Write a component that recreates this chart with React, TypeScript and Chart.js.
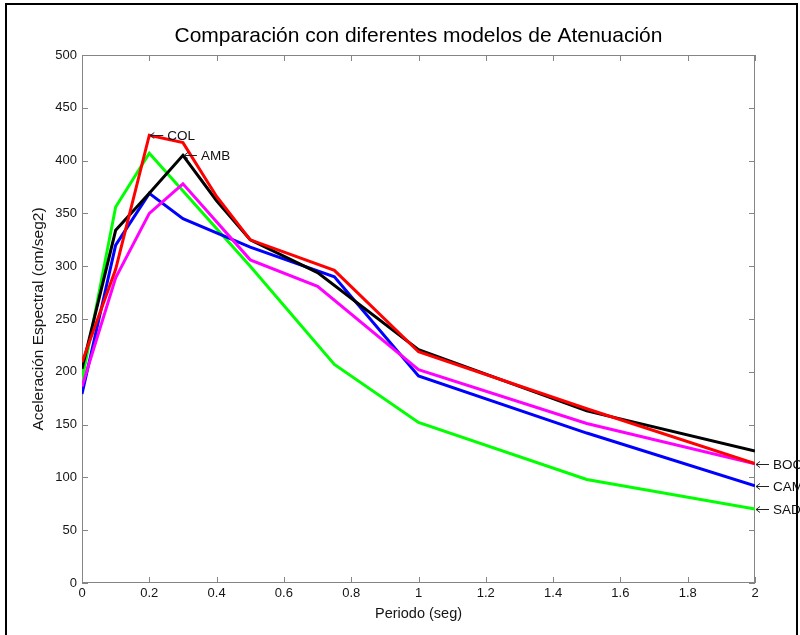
import { useEffect, useRef } from "react";
import { Chart, registerables } from "chart.js";

Chart.register(...registerables);

const titleText = "Comparación con diferentes modelos de Atenuación";
const xTitle = "Periodo (seg)";
const yTitle = "Aceleración Espectral (cm/seg2)";

// Series (periodo, aceleración)
const colX = [0, 0.1, 0.2, 0.3, 0.4, 0.5, 0.75, 1, 1.5, 2];
const colY = [209, 297, 424, 417, 366, 325, 296, 219, 165, 113];
const ambX = [0, 0.1, 0.2, 0.3, 0.4, 0.5, 0.7, 1, 1.5, 2];
const ambY = [203, 334, 369, 405, 362, 325, 294, 221, 163, 125];
const bocX = [0, 0.1, 0.2, 0.3, 0.5, 0.7, 1, 1.5, 2];
const bocY = [186, 289, 350, 378, 306, 281, 202, 151, 113];
const camX = [0, 0.1, 0.2, 0.3, 0.5, 0.75, 1, 1.5, 2];
const camY = [179, 320, 369, 345, 318, 290, 196, 142, 92];
const sadX = [0, 0.1, 0.2, 0.5, 0.75, 1, 1.5, 2];
const sadY = [192, 356, 407, 300, 207, 152, 98, 70];

const seriesNames = ["COL", "AMB", "BOC", "CAM", "SAD"];
const seriesColors = ["#ff0000", "#000000", "#ff00ff", "#0000ff", "#00ff00"];
// which point of each series gets the "← NAME" label
const labelIndex = [2, 3, 8, 8, 7];

const xMin = 0;
const xMax = 2;
const xStep = 0.2;
const yMin = 0;
const yMax = 500;
const yStep = 50;

const toPoints = (xs: number[], ys: number[]) => xs.map((x, i) => ({ x, y: ys[i] }));

const seriesData = [
  toPoints(colX, colY),
  toPoints(ambX, ambY),
  toPoints(bocX, bocY),
  toPoints(camX, camY),
  toPoints(sadX, sadY),
];

const FONT = "'Liberation Sans', Arial, Helvetica, sans-serif";

const decorPlugin = {
  id: "decor",
  beforeDraw(chart: any) {
    const ctx = chart.ctx;
    ctx.save();
    ctx.fillStyle = "#ffffff";
    ctx.fillRect(0, 0, chart.width, chart.height);
    // outer figure frame (left, top, right)
    ctx.strokeStyle = "#000000";
    ctx.lineWidth = 2;
    ctx.beginPath();
    ctx.moveTo(6, chart.height + 2);
    ctx.lineTo(6, 4);
    ctx.lineTo(797, 4);
    ctx.lineTo(797, chart.height + 2);
    ctx.stroke();
    // title
    const ca = chart.chartArea;
    ctx.fillStyle = "#000000";
    ctx.font = `21px ${FONT}`;
    ctx.textAlign = "center";
    ctx.textBaseline = "alphabetic";
    ctx.fillText(titleText, (ca.left + ca.right) / 2, 42);
    ctx.restore();
  },
  beforeDatasetsDraw(chart: any) {
    const ctx = chart.ctx;
    const ca = chart.chartArea;
    const xs = chart.scales.x;
    const ys = chart.scales.y;
    ctx.save();
    ctx.strokeStyle = "#858585";
    ctx.lineWidth = 1;
    ctx.strokeRect(ca.left + 0.5, ca.top + 0.5, ca.right - ca.left - 1, ca.bottom - ca.top - 1);
    const tl = 6;
    ctx.beginPath();
    xs.ticks.forEach((_t: any, i: number) => {
      const px = Math.round(xs.getPixelForTick(i)) + 0.5;
      ctx.moveTo(px, ca.bottom);
      ctx.lineTo(px, ca.bottom - tl);
      ctx.moveTo(px, ca.top);
      ctx.lineTo(px, ca.top + tl);
    });
    ys.ticks.forEach((_t: any, i: number) => {
      const py = Math.round(ys.getPixelForTick(i)) + 0.5;
      ctx.moveTo(ca.left, py);
      ctx.lineTo(ca.left + tl, py);
      ctx.moveTo(ca.right, py);
      ctx.lineTo(ca.right - tl, py);
    });
    ctx.stroke();
    ctx.restore();
  },
  afterDatasetsDraw(chart: any) {
    const ctx = chart.ctx;
    const xs = chart.scales.x;
    const ys = chart.scales.y;
    ctx.save();
    ctx.strokeStyle = "#222222";
    ctx.fillStyle = "#111111";
    ctx.lineWidth = 1;
    ctx.font = `13.5px ${FONT}`;
    ctx.textAlign = "left";
    ctx.textBaseline = "middle";
    seriesNames.forEach((name, s) => {
      const pt = seriesData[s][labelIndex[s]];
      const px = xs.getPixelForValue(pt.x);
      const py = Math.round(ys.getPixelForValue(pt.y)) + 0.5;
      ctx.beginPath();
      ctx.moveTo(px + 1, py);
      ctx.lineTo(px + 14, py);
      ctx.moveTo(px + 5, py - 3);
      ctx.lineTo(px + 1, py);
      ctx.lineTo(px + 5, py + 3);
      ctx.stroke();
      ctx.fillText(name, px + 18, py + 0.5);
    });
    ctx.restore();
  },
};

export default function App() {
  const canvasRef = useRef<HTMLCanvasElement | null>(null);

  useEffect(() => {
    const canvas = canvasRef.current;
    if (!canvas) return;
    const datasets = seriesNames.map((name, s) => ({
      label: name,
      data: seriesData[s],
      borderColor: seriesColors[s],
      backgroundColor: seriesColors[s],
      borderWidth: 3,
      pointRadius: 0,
      pointHoverRadius: 0,
      tension: 0,
      fill: false,
      showLine: true,
      order: s,
    }));
    const chart = new Chart(canvas, {
      type: "scatter",
      data: { datasets },
      options: {
        animation: false,
        responsive: false,
        devicePixelRatio: 1,
        events: [],
        layout: { padding: { left: 0, top: 55, right: 45, bottom: 0 } },
        plugins: {
          legend: { display: false },
          tooltip: { enabled: false },
          title: { display: false },
        },
        scales: {
          x: {
            type: "linear",
            min: xMin,
            max: xMax,
            afterFit: (s: any) => {
              s.height = 52;
            },
            grid: { display: false, drawTicks: false, tickLength: 0 },
            border: { display: false },
            ticks: {
              stepSize: xStep,
              padding: 3,
              color: "#151515",
              font: { family: FONT, size: 13 },
              maxRotation: 0,
              callback: (v: any) => String(Number(Number(v).toFixed(1))),
            },
            title: {
              display: true,
              text: xTitle,
              color: "#151515",
              font: { family: FONT, size: 14.5 },
              padding: { top: 0, bottom: 12 },
            },
          },
          y: {
            type: "linear",
            min: yMin,
            max: yMax,
            afterFit: (s: any) => {
              s.width = 82;
            },
            grid: { display: false, drawTicks: false, tickLength: 0 },
            border: { display: false },
            ticks: {
              stepSize: yStep,
              padding: 5,
              color: "#151515",
              font: { family: FONT, size: 13 },
            },
            title: {
              display: true,
              text: yTitle,
              color: "#151515",
              font: { family: FONT, size: 15.5 },
              padding: { top: 29, bottom: 0 },
            },
          },
        },
      } as any,
      plugins: [decorPlugin],
    });
    return () => chart.destroy();
  }, []);

  return (
    <div style={{ position: "absolute", left: 0, top: 0, width: 800, height: 635, background: "#fff" }}>
      <canvas ref={canvasRef} width={800} height={635} style={{ display: "block", width: 800, height: 635 }} />
    </div>
  );
}
